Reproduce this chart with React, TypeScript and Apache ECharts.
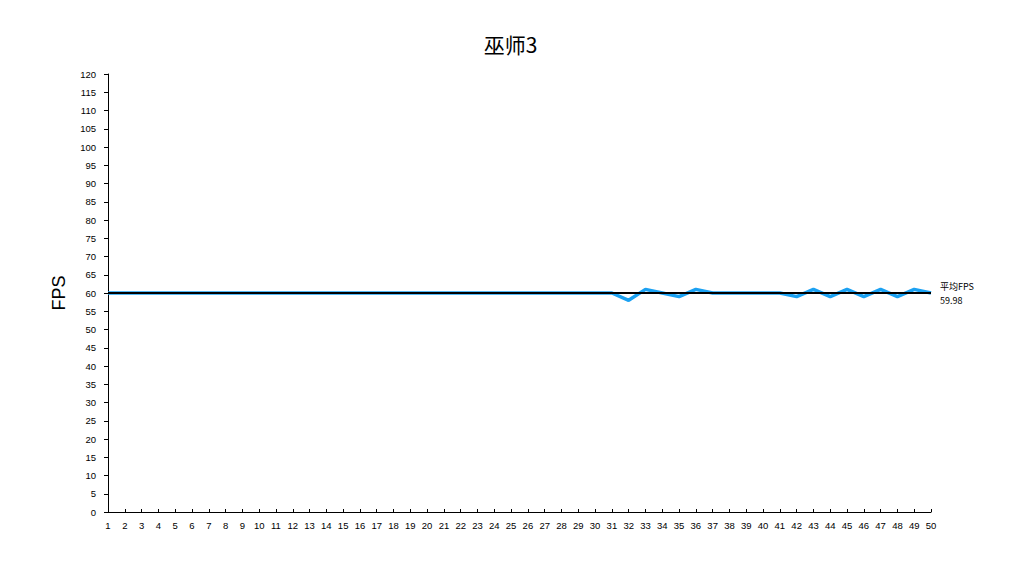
import React, { useEffect, useRef } from "react";
import * as echarts from "echarts";

const titleText = "巫师3";
const yAxisName = "FPS";
const categories: string[] = [];
for (let i = 1; i <= 50; i++) categories.push(String(i));
const fpsValues = [
  60, 60, 60, 60, 60, 60, 60, 60, 60, 60,
  60, 60, 60, 60, 60, 60, 60, 60, 60, 60,
  60, 60, 60, 60, 60, 60, 60, 60, 60, 60,
  60, 58, 61, 60, 59, 61, 60, 60, 60, 60,
  60, 59, 61, 59, 61, 59, 61, 59, 61, 60,
];
const avgFps = 59.98;
const avgLabel = "平均FPS";

export default function App() {
  const ref = useRef<HTMLDivElement>(null);
  useEffect(() => {
    const chart = echarts.init(ref.current!, undefined, { renderer: "svg" });
    chart.setOption({
      animation: false,
      backgroundColor: "#ffffff",
      title: {
        text: titleText,
        left: "center",
        top: 20,
        textStyle: { fontSize: 21, fontWeight: "normal", color: "#000", fontFamily: "Noto Sans CJK SC" },
      },
      grid: { left: 100, right: 82, top: 66, bottom: 50 },
      xAxis: {
        type: "category",
        data: categories,
        boundaryGap: false,
        axisLine: { lineStyle: { color: "#000", width: 1 } },
        axisTick: { inside: true, length: 3, alignWithLabel: true, lineStyle: { color: "#000" } },
        axisLabel: { color: "#000", fontSize: 9.5, fontFamily: "Liberation Sans", interval: 0, margin: 8 },
      },
      yAxis: {
        type: "value",
        min: 0,
        max: 120,
        interval: 5,
        name: yAxisName,
        nameLocation: "middle",
        nameGap: 40,
        nameRotate: 90,
        nameTextStyle: { fontSize: 18, color: "#000", fontFamily: "Liberation Sans" },
        axisLine: { show: true, lineStyle: { color: "#000", width: 1 } },
        axisTick: { show: true, length: 4, lineStyle: { color: "#000" } },
        axisLabel: { color: "#000", fontSize: 9.5, fontFamily: "Liberation Sans", margin: 12 },
        splitLine: { show: false },
      },
      series: [
        {
          type: "line",
          data: fpsValues,
          symbol: "none",
          lineStyle: { color: "#1ba1f2", width: 3.5 },
          z: 2,
          markLine: {
            silent: true,
            symbol: "none",
            data: [{ yAxis: avgFps }],
            lineStyle: { color: "#000", width: 2, type: "solid" },
            label: {
              show: true,
              position: "end",
              distance: 9,
              formatter: avgLabel + "\n" + avgFps.toFixed(2),
              color: "#000",
              fontSize: 9,
              lineHeight: 14,
              fontFamily: "Noto Sans CJK SC",
            },
            z: 5,
          },
        },
      ],
    });
    return () => chart.dispose();
  }, []);
  return <div ref={ref} style={{ width: 1005, height: 554 }} />;
}
